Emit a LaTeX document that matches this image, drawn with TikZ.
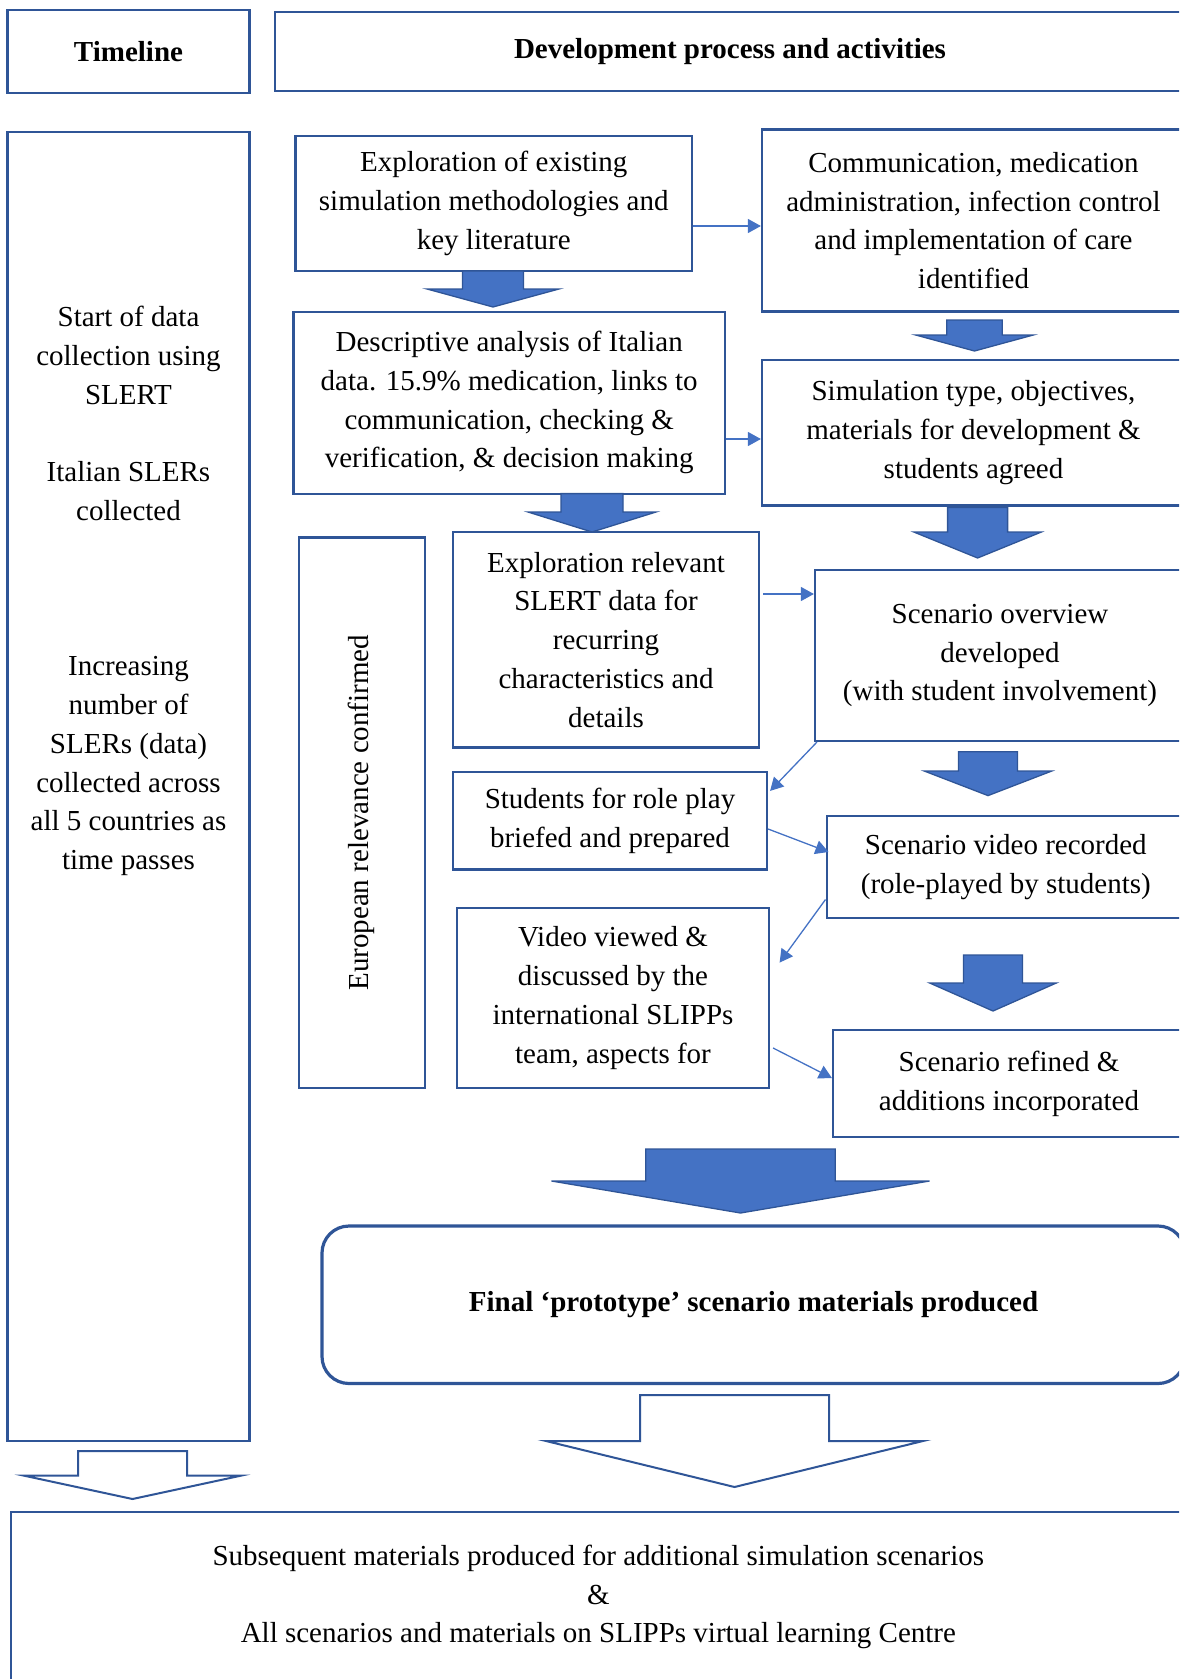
\documentclass[tikz,border=0pt]{standalone}
\usepackage{fontspec}
\setmainfont{Liberation Serif}
\usetikzlibrary{arrows.meta}
\definecolor{boxblue}{HTML}{2F5597}
\definecolor{fillblue}{HTML}{4472C4}
% block arrow pointing down: [style]{x}{top}{shoulder}{tip}{half shaft}{half head}
\newcommand{\blockarrow}[7][fat]{%
  \draw[#1] ({#2-#6},#3) -- ({#2+#6},#3) -- ({#2+#6},#4) -- ({#2+#7},#4)
    -- (#2,#5) -- ({#2-#7},#4) -- ({#2-#6},#4) -- cycle;}
\begin{document}
\begin{tikzpicture}[x=1pt, y=-1pt,
    box/.style = {draw=boxblue, line width=2.2pt, align=center, inner sep=0pt,
                  font=\fontsize{29}{38.8}\selectfont},
    head/.style = {box, font=\fontsize{29}{38.8}\selectfont\bfseries},
    link/.style = {draw=fillblue, line width=1.3pt, -{Triangle[length=13pt, width=14pt]}},
    fat/.style = {draw=boxblue, line width=1.3pt, fill=fillblue},
    hollow/.style = {draw=boxblue, line width=2pt, fill=white}]
\useasboundingbox (0,0) rectangle (1179,1679);
\clip (0,0) rectangle (1179,1679);

% headers
\node[head, minimum width=242, minimum height=83.4] (timehead) at (128.5,51.3) {Timeline};
\node[head, minimum width=910, minimum height=79] (devhead) at (730,51.5) {Development process and activities};

% timeline column
\node[box, minimum width=242, minimum height=1309] (timeline) at (128.5,786.5) {};
\node[align=center, font=\fontsize{29}{38.8}\selectfont] (timetext) at (128.5,591)
  {Start of data\\collection using\\SLERT\\[38.8pt]
   Italian SLERs\\collected\\[116.4pt]
   Increasing\\number of\\SLERs (data)\\collected across\\all 5 countries as\\time passes};

% process boxes
\node[box, minimum width=396.5, minimum height=135] (explore) at (493.75,203.5)
  {Exploration of existing\\simulation methodologies and\\key literature};
\node[box, minimum width=423, minimum height=182] (comm) at (973.5,220.5)
  {Communication, medication\\administration, infection control\\and implementation of care\\identified};
\node[box, minimum width=431.6, minimum height=182] (descr) at (509.2,402.6)
  {Descriptive analysis of Italian\\data. 15.9\% medication, links to\\communication, checking \&\\verification, \& decision making};
\node[box, minimum width=423, minimum height=145.4] (simtype) at (973.5,432.7)
  {Simulation type, objectives,\\materials for development \&\\students agreed};
\node[box, minimum width=306, minimum height=215.5] (slert) at (606,639.75)
  {Exploration relevant\\SLERT data for\\recurring\\characteristics and\\details};
\node[box, rotate=90, minimum width=550.5, minimum height=126.3] (euro) at (361.85,812.75)
  {European relevance confirmed};
\node[box, minimum width=370, minimum height=171] (overview) at (1000,655.5)
  {Scenario overview\\developed\\(with student involvement)};
\node[box, minimum width=314, minimum height=97.5] (students) at (610,820.75)
  {Students for role play\\briefed and prepared};
\node[box, minimum width=358.4, minimum height=101.7] (recorded) at (1005.8,866.85)
  {Scenario video recorded\\(role-played by students)};
\node[box, minimum width=312, minimum height=180] (viewed) at (613,998)
  {Video viewed \&\\discussed by the\\international SLIPPs\\team, aspects for};
\node[box, minimum width=352, minimum height=107] (refined) at (1009,1083.5)
  {Scenario refined \&\\additions incorporated};
\node[head, rounded corners=27, line width=3.2pt, minimum width=863, minimum height=157.5] (final) at (753.5,1304.75)
  {Final ‘prototype’ scenario materials produced};
\node[box, line width=2pt, minimum width=1175.3, minimum height=170] (subseq) at (598.35,1597)
  {Subsequent materials produced for additional simulation scenarios\\\&\\All scenarios and materials on SLIPPs virtual learning Centre};

% thin connectors
\draw[link] ([yshift=-22.5pt]explore.east) -- ([yshift=-5.5pt]comm.west);
\draw[link] ([yshift=-36.4pt]descr.east) -- ([yshift=-6.3pt]simtype.west);
\draw[link] ([xshift=3pt, yshift=45.75pt]slert.east) -- ([yshift=61.5pt]overview.west);
\draw[link] ([xshift=3pt]overview.south west) -- ([xshift=2pt, yshift=-20pt]students.north east);
\draw[link] ([yshift=-8.25pt]students.east) -- ([xshift=3pt, yshift=14.85pt]recorded.west);
\draw[link] ([yshift=-32.65pt]recorded.west) -- ([xshift=9.5pt, yshift=35.4pt]viewed.east);
\draw[link] ([xshift=3pt, yshift=-50pt]viewed.east) -- ([yshift=5.5pt]refined.west);

% block arrows
\blockarrow{493}{271}{289}{307}{30.5}{66}
\blockarrow{974.5}{320}{335}{351}{27.7}{58.8}
\blockarrow{592}{493.6}{512}{532}{31}{64}
\blockarrow{977.6}{507.5}{532}{558}{30}{63.8}
\blockarrow{988}{751.7}{771}{795.6}{29.5}{63.8}
\blockarrow{993}{955}{983}{1011}{29.5}{63.3}
\blockarrow{740.5}{1149}{1181}{1213}{94.7}{189}
\blockarrow[hollow]{734.5}{1395}{1441}{1487}{94.5}{188.5}
\blockarrow[hollow]{132.5}{1451}{1475.6}{1499}{54.5}{108.7}
\end{tikzpicture}
\end{document}
